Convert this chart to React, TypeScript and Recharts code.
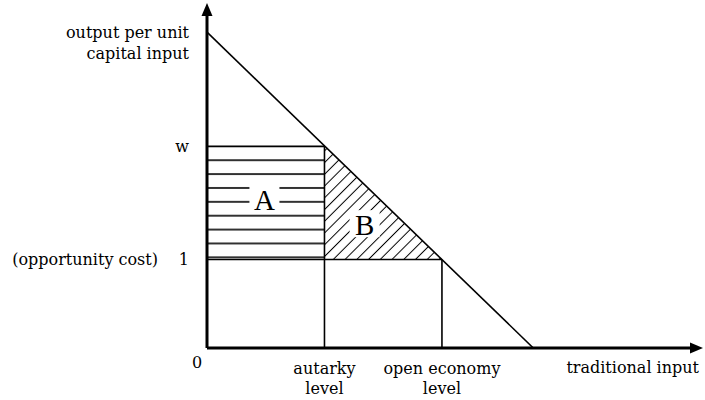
import React from "react";
import {
  ComposedChart,
  Line,
  Area,
  XAxis,
  YAxis,
  ReferenceLine,
  ReferenceDot,
} from "recharts";

// axis extents (traditional input, output per unit capital input)
const xMax = 15.2;
const yMax = 3.9;

const autarky = 3.6;
const openEconomy = 7.2;
const wage = 2.28;
const opportunityCost = 1;

const marginalProduct = [
  { x: 0, y: 3.57 },
  { x: 10, y: 0 },
];

const areaA = [
  { x: 0, band: [opportunityCost, wage] },
  { x: autarky, band: [opportunityCost, wage] },
];

const areaB = [
  { x: autarky, band: [opportunityCost, wage] },
  { x: openEconomy, band: [opportunityCost, opportunityCost] },
];

const xTicks = [0, autarky, openEconomy];
const xTickLabels = [["0"], ["autarky", "level"], ["open economy", "level"]];

const yTicks = [opportunityCost, wage];
const yTickLabels = ["1", "w"];

const areaLabels = [
  { name: "A", x: 1.76, y: 1.68 },
  { name: "B", x: 4.83, y: 1.4 },
];

const font = "'DejaVu Serif', serif";
const bigFont = "'Liberation Serif', 'Times New Roman', serif";
const fs = 16;

const AxisArrow = (props: any) => {
  const { x1, y1, x2, y2 } = props;
  const ang = Math.atan2(y2 - y1, x2 - x1);
  const len = 13;
  const half = 5.5;
  const bx = x2 - len * Math.cos(ang);
  const by = y2 - len * Math.sin(ang);
  const px = -Math.sin(ang) * half;
  const py = Math.cos(ang) * half;
  return (
    <g>
      <line x1={x1} y1={y1} x2={bx} y2={by} stroke="#000" strokeWidth={3} />
      <polygon
        points={`${x2},${y2} ${bx + px},${by + py} ${bx - px},${by - py}`}
        fill="#000"
      />
    </g>
  );
};

const XTick = (props: any) => {
  const { x, y, index } = props;
  const lines = xTickLabels[index] || [];
  if (index === 0) {
    return (
      <text x={x - 10} y={y + 20} textAnchor="middle" fontFamily={font} fontSize={fs} fill="#000">
        {lines[0]}
      </text>
    );
  }
  return (
    <g>
      {lines.map((l, i) => (
        <text key={i} x={x} y={y + 26 + i * 20} textAnchor="middle" fontFamily={font} fontSize={fs} fill="#000">
          {l}
        </text>
      ))}
    </g>
  );
};

const YTick = (props: any) => {
  const { x, y, index } = props;
  return (
    <g fontFamily={font} fontSize={fs} fill="#000">
      <text x={x - 18} y={y} dy="0.35em" textAnchor="end">
        {yTickLabels[index]}
      </text>
      {index === 0 && (
        <text x={x - 49} y={y} dy="0.35em" textAnchor="end">
          (opportunity cost)
        </text>
      )}
    </g>
  );
};

const YLabel = (props: any) => {
  const { viewBox } = props;
  const right = viewBox.x + viewBox.width - 18;
  return (
    <g fontFamily={font} fontSize={fs} fill="#000" textAnchor="end">
      <text x={right} y={viewBox.y + 35}>
        output per unit
      </text>
      <text x={right} y={viewBox.y + 56}>
        capital input
      </text>
    </g>
  );
};

const XLabel = (props: any) => {
  const { viewBox } = props;
  return (
    <text
      x={viewBox.x + viewBox.width - 4}
      y={viewBox.y + 25}
      textAnchor="end"
      fontFamily={font}
      fontSize={fs}
      fill="#000"
    >
      traditional input
    </text>
  );
};

const AreaName = (name: string) => (props: any) => {
  const { cx, cy } = props;
  return (
    <g>
      <rect x={cx - 15} y={cy - 14} width={30} height={27} fill="#fff" />
      <text x={cx} y={cy} dy="0.36em" textAnchor="middle" fontFamily={bigFont} fontSize={29} fill="#000">
        {name}
      </text>
    </g>
  );
};

export default function App() {
  return (
    <div style={{ position: "absolute", left: 0, top: 0, background: "#fff" }}>
      <ComposedChart
        width={705}
        height={400}
        margin={{ top: 3, right: 2, bottom: 0, left: 0 }}
      >
        <defs>
          <pattern id="stripesA" patternUnits="userSpaceOnUse" x={0} y={139.4} width={10} height={13.875}>
            <line x1={0} y1={6.94} x2={10} y2={6.94} stroke="#000" strokeWidth={1.6} />
          </pattern>
          <pattern id="hatchB" patternUnits="userSpaceOnUse" width={8.3} height={8.3} patternTransform="rotate(45)">
            <line x1={4.15} y1={0} x2={4.15} y2={8.3} stroke="#000" strokeWidth={1} />
          </pattern>
        </defs>
        <XAxis
          type="number"
          dataKey="x"
          domain={[0, xMax]}
          ticks={xTicks}
          tick={<XTick />}
          axisLine={false}
          tickLine={false}
          tickSize={0}
          tickMargin={0}
          height={52}
          allowDataOverflow
          label={{ content: <XLabel /> }}
        />
        <YAxis
          type="number"
          domain={[0, yMax]}
          ticks={yTicks}
          tick={<YTick />}
          axisLine={false}
          tickLine={false}
          tickSize={0}
          tickMargin={0}
          width={207}
          allowDataOverflow
          label={{ content: <YLabel /> }}
        />
        <Area
          data={areaA}
          dataKey="band"
          type="linear"
          stroke="none"
          fill="url(#stripesA)"
          fillOpacity={1}
          isAnimationActive={false}
        />
        <Area
          data={areaB}
          dataKey="band"
          type="linear"
          stroke="none"
          fill="url(#hatchB)"
          fillOpacity={1}
          isAnimationActive={false}
        />
        <ReferenceLine segment={[{ x: 0, y: wage }, { x: autarky, y: wage }]} stroke="#000" strokeWidth={1.6} />
        <ReferenceLine segment={[{ x: autarky, y: 0 }, { x: autarky, y: wage }]} stroke="#000" strokeWidth={1.6} />
        <ReferenceLine segment={[{ x: 0, y: opportunityCost }, { x: openEconomy, y: opportunityCost }]} stroke="#000" strokeWidth={1.6} />
        <ReferenceLine segment={[{ x: openEconomy, y: 0 }, { x: openEconomy, y: opportunityCost }]} stroke="#000" strokeWidth={1.6} />
        <Line
          data={marginalProduct}
          dataKey="y"
          type="linear"
          stroke="#000"
          strokeWidth={1.6}
          dot={false}
          activeDot={false}
          isAnimationActive={false}
        />
        {areaLabels.map((a) => (
          <ReferenceDot key={a.name} x={a.x} y={a.y} shape={AreaName(a.name)} />
        ))}
        <ReferenceLine segment={[{ x: 0, y: 0 }, { x: xMax, y: 0 }]} shape={<AxisArrow />} />
        <ReferenceLine segment={[{ x: 0, y: 0 }, { x: 0, y: yMax }]} shape={<AxisArrow />} />
      </ComposedChart>
    </div>
  );
}
